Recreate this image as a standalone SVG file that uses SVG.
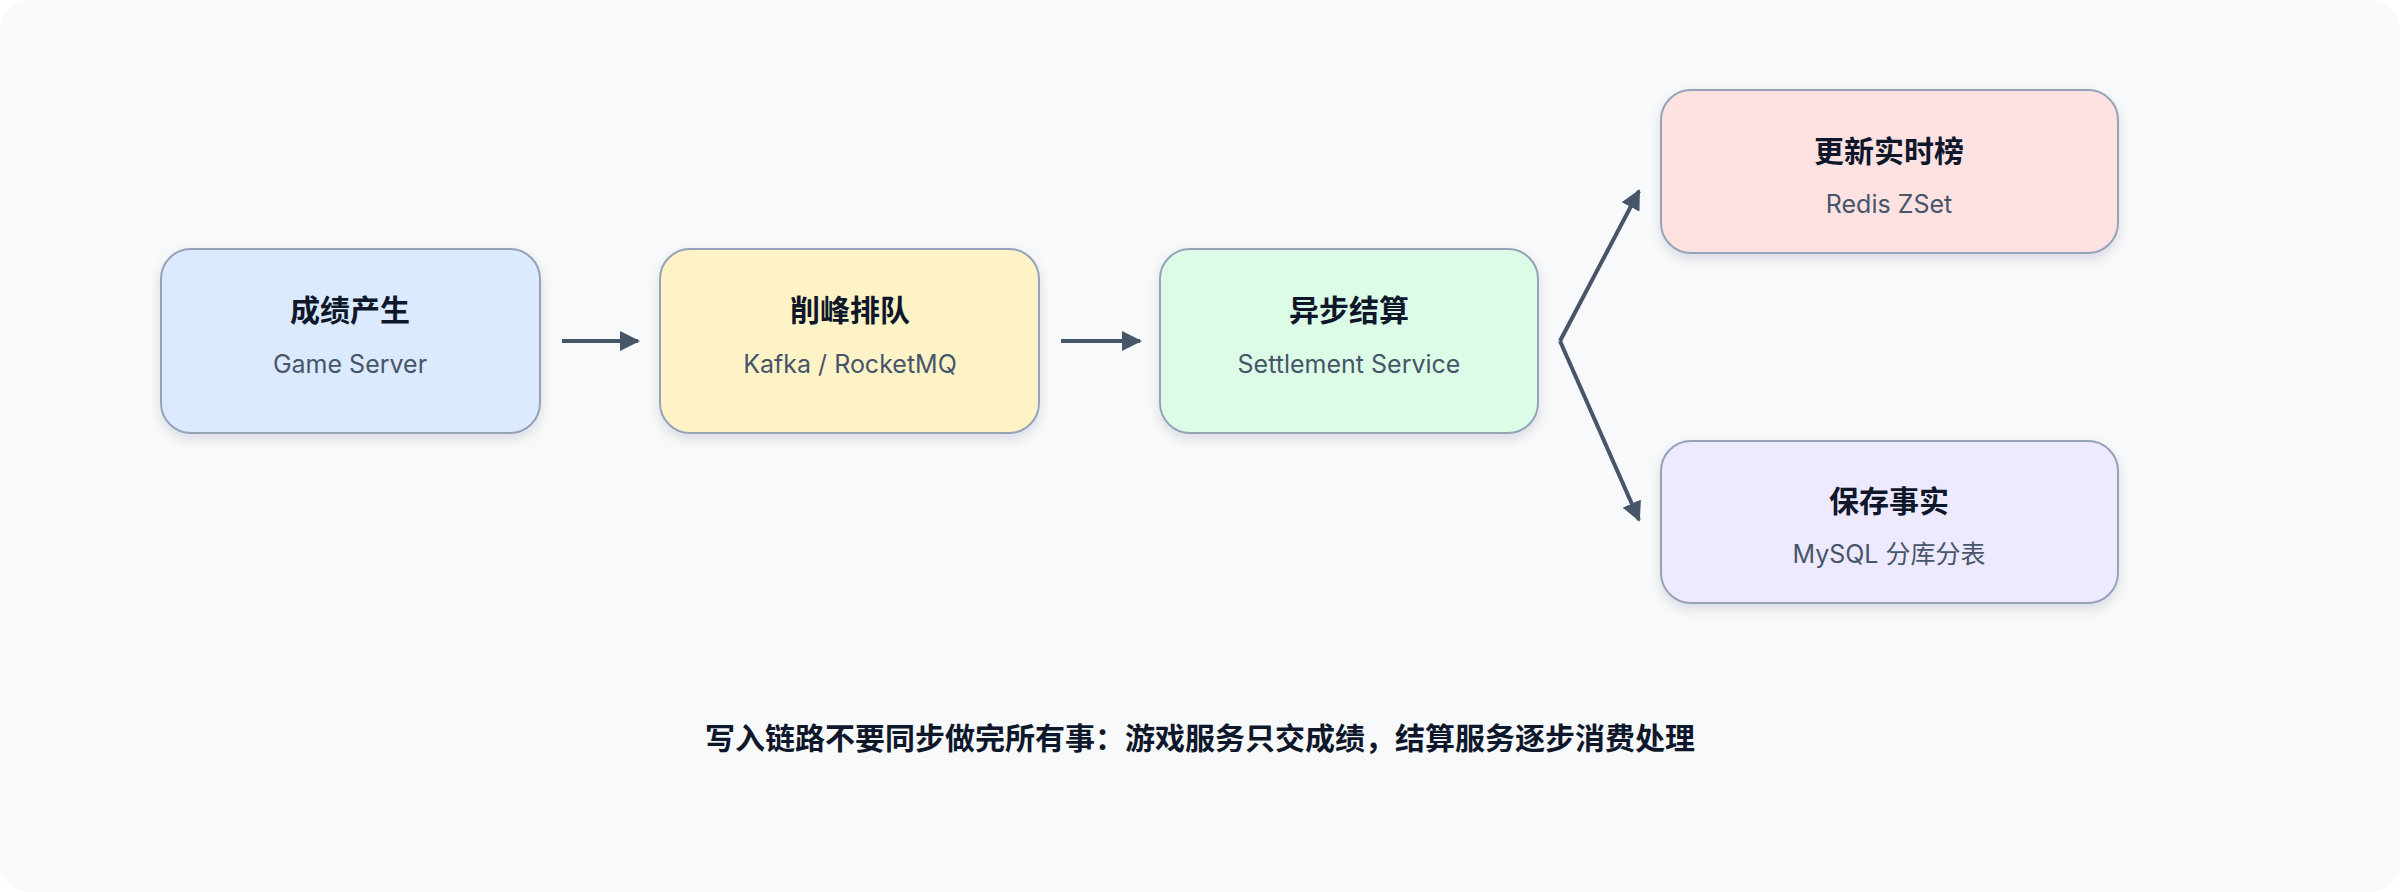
<svg xmlns="http://www.w3.org/2000/svg" width="2400" height="892" viewBox="0 0 2400 892">
<style>
.n{stroke:#94a3b8;stroke-width:2;filter:url(#sh)}
.t{font-family:Inter,"Noto Sans CJK SC",sans-serif;font-weight:700;font-size:30px;fill:#0f172a;text-anchor:middle}
.s{font-family:Inter,"Noto Sans CJK SC",sans-serif;font-size:25px;fill:#475569;text-anchor:middle}
.c{stroke:#475569;stroke-width:4;fill:none;marker-end:url(#a)}
</style>
<defs>
<filter id="sh" x="-10%" y="-10%" width="120%" height="130%"><feDropShadow dx="0" dy="5" stdDeviation="6" flood-color="#0f172a" flood-opacity="0.12"/></filter>
<marker id="a" viewBox="0 0 10 10" refX="9" refY="5" markerWidth="5" markerHeight="5" orient="auto" markerUnits="strokeWidth"><path d="M0,0 L10,5 L0,10 z" fill="#475569"/></marker>
</defs>
<rect x="0" y="0" width="2400" height="892" rx="30" fill="#f7f9fb"/>
<g id="n1"><rect class="n" x="161" y="249" width="379" height="184" rx="30" fill="#dbeafe"/><text class="t" x="350" y="321">成绩产生</text><text class="s" x="350" y="373">Game Server</text></g>
<g id="n2"><rect class="n" x="660" y="249" width="379" height="184" rx="30" fill="#fef3c7"/><text class="t" x="850" y="321">削峰排队</text><text class="s" x="850" y="373">Kafka / RocketMQ</text></g>
<g id="n3"><rect class="n" x="1160" y="249" width="378" height="184" rx="30" fill="#dcfce7"/><text class="t" x="1349" y="321">异步结算</text><text class="s" x="1349" y="373">Settlement Service</text></g>
<g id="n4"><rect class="n" x="1661" y="90" width="457" height="163" rx="30" fill="#fee2e2"/><text class="t" x="1889" y="162">更新实时榜</text><text class="s" x="1889" y="213">Redis ZSet</text></g>
<g id="n5"><rect class="n" x="1661" y="441" width="457" height="162" rx="30" fill="#ede9fe"/><text class="t" x="1889" y="512">保存事实</text><text class="s" x="1889" y="563">MySQL 分库分表</text></g>
<g id="connectors">
<line class="c" x1="562" y1="341" x2="638" y2="341"/>
<line class="c" x1="1061" y1="341" x2="1140" y2="341"/>
<path class="c" d="M1560,341 L1639,191"/>
<path class="c" d="M1560,341 L1639,520"/>
</g>
<text class="t" x="1200" y="749">写入链路不要同步做完所有事：游戏服务只交成绩，结算服务逐步消费处理</text>
</svg>
